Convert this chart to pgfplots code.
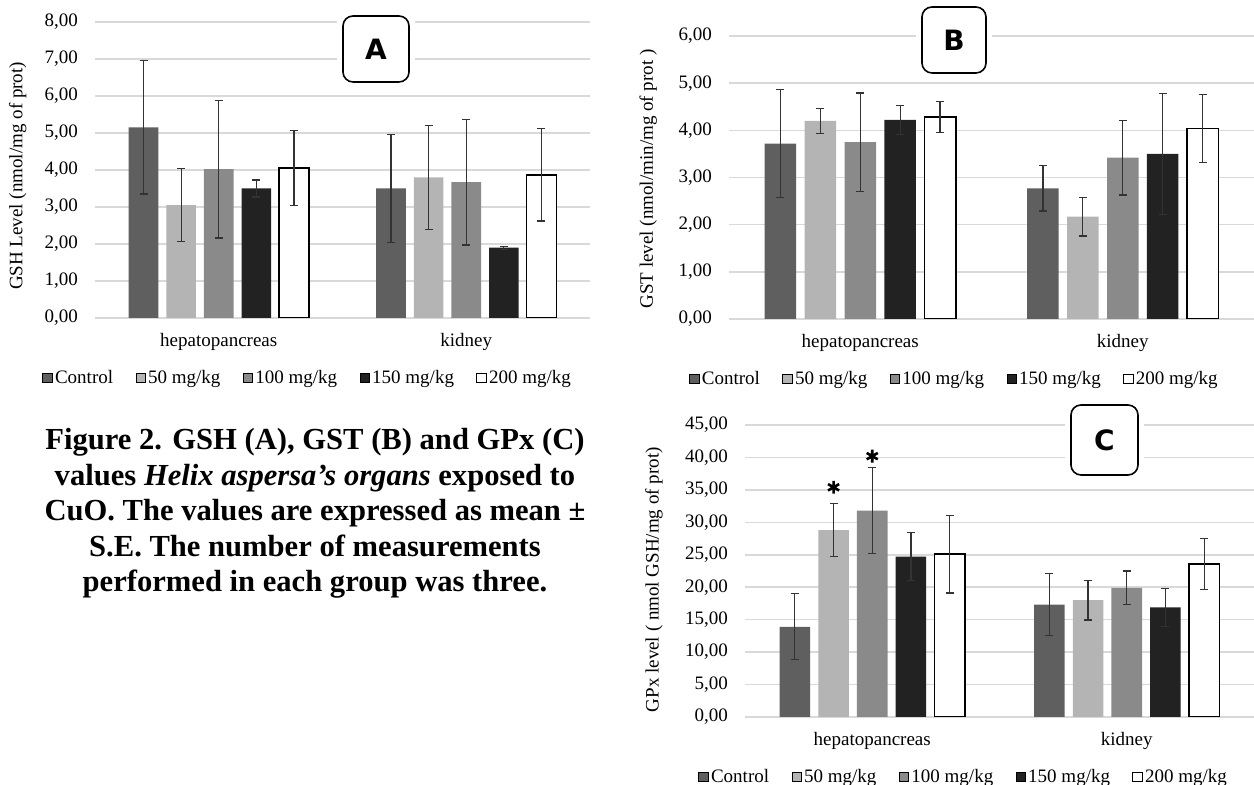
\documentclass[border=0pt]{standalone}
\usepackage{pgfplots}
\pgfplotsset{compat=1.18}
\usepackage{pgfplotstable}
\usepackage{fontspec}
\setmainfont{Liberation Serif}
\newfontfamily\boxfont{DejaVu Sans}

\definecolor{cctrl}{HTML}{5F5F5F}
\definecolor{cfifty}{HTML}{B4B4B4}
\definecolor{chund}{HTML}{8A8A8A}
\definecolor{conefifty}{HTML}{222222}
\definecolor{gridc}{HTML}{D9D9D9}

% x: 0 = hepatopancreas, 1 = kidney ; value / error pairs
\pgfplotstableread{
x c ce f fe h he o oe t te
0 5.15 1.80 3.05 0.99 4.02 1.86 3.50 0.23 4.05 1.01
1 3.50 1.46 3.80 1.40 3.67 1.70 1.90 0.04 3.87 1.25
}\dataA
\pgfplotstableread{
x c ce f fe h he o oe t te
0 3.72 1.15 4.20 0.27 3.75 1.04 4.22 0.31 4.28 0.33
1 2.77 0.48 2.17 0.41 3.42 0.79 3.50 1.28 4.04 0.72
}\dataB
\pgfplotstableread{
x c ce f fe h he o oe t te
0 13.9 5.10 28.8 4.10 31.8 6.60 24.7 3.70 25.1 6.00
1 17.3 4.80 18.0 3.05 19.9 2.60 16.9 2.95 23.6 3.95
}\dataC

\pgfplotsset{
  mybase/.style={
    scale only axis,
    xmin=-0.5, xmax=1.5, ymin=0,
    xtick={0,1}, xticklabels={hepatopancreas,kidney},
    ymajorgrids, grid style={draw=gridc, line width=0.75pt},
    axis line style={draw=none},
    major tick length=0pt,
    tick label style={font=\fontsize{9.5}{11}\selectfont},
    label style={font=\fontsize{9.5}{11}\selectfont},
    yticklabel style={xshift=-5pt},
    xticklabel style={yshift=-4pt},
    /pgf/number format/fixed,
    /pgf/number format/fixed zerofill,
    /pgf/number format/precision=2,
    /pgf/number format/use comma,
    /pgf/number format/assume math mode=true,
    legend columns=5,
    legend style={draw=none, fill=none, font=\fontsize{9.5}{11}\selectfont,
      at={(axis description cs:0.43,0)}, anchor=center, yshift=-30pt,
      /tikz/every even column/.append style={column sep=10pt},
      nodes={inner sep=1.2pt}},
    error bars/y dir=both, error bars/y explicit,
    error bars/error bar style={line width=0.6pt, draw=black!80},
    error bars/error mark options={line width=0.6pt, draw=black!80, mark size=2pt, rotate=90},
  },
  bar/.style={ybar, bar width=0.12, bar shift=0, draw=none,
    legend image code/.code={\draw[##1, line width=0.5pt] (0pt,-2.3pt) rectangle (4.6pt,2.3pt);}},
}

\newcommand{\bars}[1]{%
  \addplot[bar, fill=cctrl] table[x expr=\thisrow{x}-0.304, y=c, y error=ce]{#1};
  \addplot[bar, fill=cfifty] table[x expr=\thisrow{x}-0.152, y=f, y error=fe]{#1};
  \addplot[bar, fill=chund] table[x=x, y=h, y error=he]{#1};
  \addplot[bar, fill=conefifty] table[x expr=\thisrow{x}+0.152, y=o, y error=oe]{#1};
  \addplot[bar, fill=white, draw=black, line width=0.75pt] table[x expr=\thisrow{x}+0.304, y=t, y error=te]{#1};
  \legend{Control,50 mg/kg,100 mg/kg,150 mg/kg,200 mg/kg}
}

\newcommand{\letterbox}[5]{%
  \fill[white] (#1-3pt,#2-3pt) rectangle (#3+3pt,#4+3pt);
  \draw[black, line width=0.8pt, fill=white, rounded corners=5pt] (#1,#2) rectangle (#3,#4);
  \node[font=\boxfont\bfseries\fontsize{14}{16}\selectfont] at ({(#1+#3)/2},{(#2+#4)/2}) {#5};
}

\begin{document}
\begin{tikzpicture}
\useasboundingbox (0,0) rectangle (627pt,392.5pt);

% Panel A
\begin{axis}[mybase, at={(47.5pt,233.5pt)}, anchor=south west,
  width=247.5pt, height=148pt, ymax=8, ytick={0,1,...,8},
  ylabel={GSH Level (nmol/mg of prot)},
  ylabel style={at={(axis description cs:-0.156,0.48)}, anchor=center}]
  \bars{\dataA}
\end{axis}

% Panel B
\begin{axis}[mybase, at={(364.5pt,233pt)}, anchor=south west,
  width=262.5pt, height=141.5pt, ymax=6, ytick={0,1,...,6},
  ylabel={GST level (nmol/min/mg of prot )},
  ylabel style={at={(axis description cs:-0.154,0.495)}, anchor=center}]
  \bars{\dataB}
\end{axis}

% Panel C
\begin{axis}[mybase, at={(372.5pt,34pt)}, anchor=south west,
  width=254.5pt, height=146pt, ymax=45, ytick={0,5,...,45},
  ylabel={GPx level ( nmol GSH/mg of prot)},
  ylabel style={at={(axis description cs:-0.179,0.47)}, anchor=center}]
  \bars{\dataC}
  \addplot[only marks, mark=asterisk, mark size=3.2pt, line width=1.3pt, black, forget plot]
    coordinates {(-0.152,35.4) (0,40.2)};
\end{axis}

\letterbox{171.5pt}{351.5pt}{204.5pt}{384.5pt}{A}
\letterbox{461pt}{356pt}{493pt}{389pt}{B}
\letterbox{535.5pt}{155pt}{569pt}{190pt}{C}

\node[align=center, font=\bfseries\fontsize{15.3}{17.75}\selectfont] at (157.5pt,135.75pt)
  {Figure 2. GSH (A), GST (B) and GPx (C)\\
   values \textit{Helix aspersa’s organs} exposed to\\
   CuO. The values are expressed as mean ±\\
   S.E. The number of measurements\\
   performed in each group was three.};
\end{tikzpicture}
\end{document}
